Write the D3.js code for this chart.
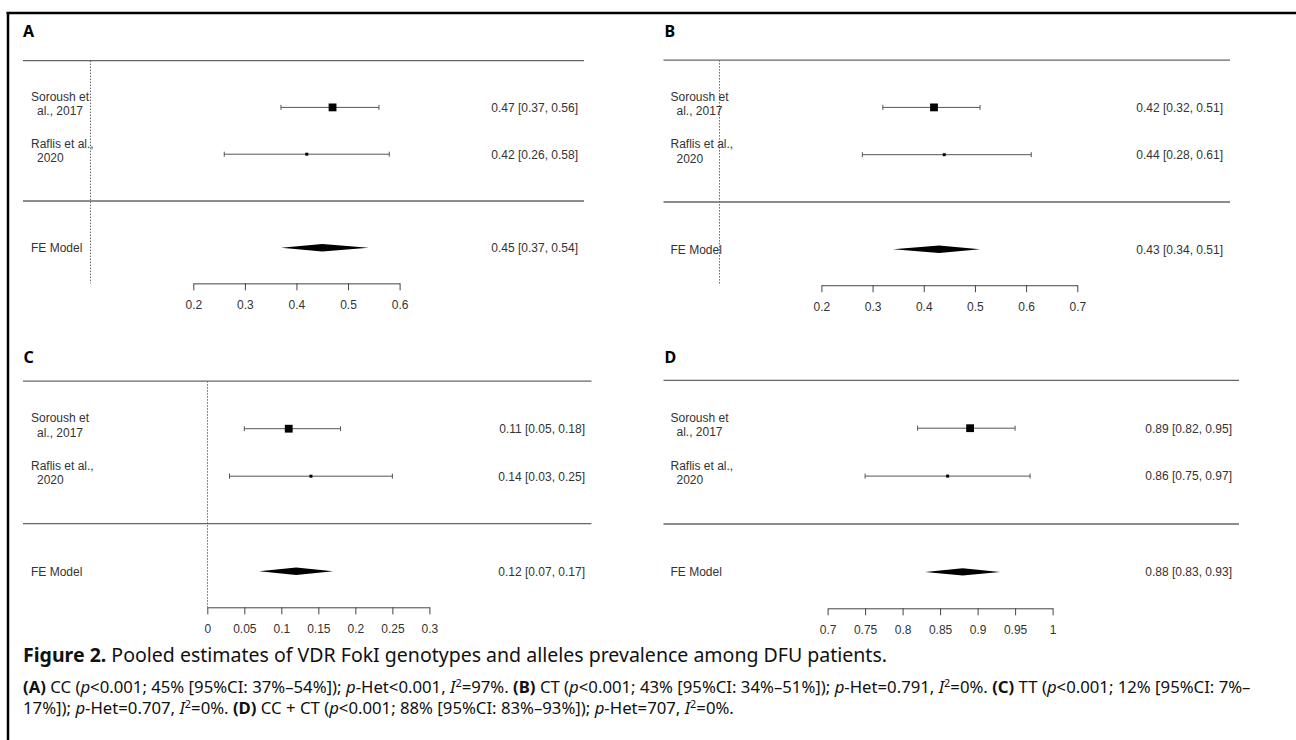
<!DOCTYPE html>
<html>
<head>
<meta charset="utf-8">
<script src="https://cdn.jsdelivr.net/npm/d3@7"></script>
<style>
  body { margin: 0; background: #fff; }
  .forest text { font-family: "Liberation Sans", Arial, sans-serif; font-size: 12px; fill: #333; }
  .forest .panel-label { font-family: "Noto Sans", sans-serif; font-size: 16px; font-weight: 700; fill: #000; }
  .caption { font-family: "Noto Sans", sans-serif; fill: #111; }
</style>
</head>
<body>
<svg id="fig" width="1296" height="740"></svg>
<script>
'use strict';

var studies = [['Soroush et', 'al., 2017'], ['Raflis et al.,', '2020']];
var panelIds = ['A', 'B', 'C', 'D'];

// per study: estimate, lower, upper; pooled = [estimate, lower, upper]
var ccEst = [0.47, 0.42], ccLow = [0.37, 0.26], ccHigh = [0.56, 0.58];
var ccPooled = [0.45, 0.37, 0.54];
var ctEst = [0.42, 0.44], ctLow = [0.32, 0.28], ctHigh = [0.51, 0.61];
var ctPooled = [0.43, 0.34, 0.51];
var ttEst = [0.11, 0.14], ttLow = [0.05, 0.03], ttHigh = [0.18, 0.25];
var ttPooled = [0.12, 0.07, 0.17];
var ccctEst = [0.89, 0.86], ccctLow = [0.82, 0.75], ccctHigh = [0.95, 0.97];
var ccctPooled = [0.88, 0.83, 0.93];

var ticksA = [0.2, 0.3, 0.4, 0.5, 0.6];
var ticksB = [0.2, 0.3, 0.4, 0.5, 0.6, 0.7];
var ticksC = [0, 0.05, 0.1, 0.15, 0.2, 0.25, 0.3];
var ticksD = [0.7, 0.75, 0.8, 0.85, 0.9, 0.95, 1];

var panels = [
  {est: ccEst, low: ccLow, high: ccHigh, pooled: ccPooled, ticks: ticksA},
  {est: ctEst, low: ctLow, high: ctHigh, pooled: ctPooled, ticks: ticksB},
  {est: ttEst, low: ttLow, high: ttHigh, pooled: ttPooled, ticks: ticksC},
  {est: ccctEst, low: ccctLow, high: ccctHigh, pooled: ccctPooled, ticks: ticksD}
];

// where each panel sits on the page (the four plots were pasted in at slightly different sizes)
var layouts = [
  {labelX: 23, labelY: 37, x0: 23, x1: 584, textX: 31, valueX: 578, row0: 201, rowH: 46.8, range: [193.3, 399.6]},
  {labelX: 664.5, labelY: 37, x0: 663.5, x1: 1230, textX: 670.5, valueX: 1223, row0: 202, rowH: 47.3, range: [821.4, 1077.3]},
  {labelX: 23.5, labelY: 363, x0: 23, x1: 591.5, textX: 31, valueX: 585, row0: 523.7, rowH: 47.5, range: [207.3, 429.4]},
  {labelX: 664.5, labelY: 363, x0: 663.5, x1: 1239, textX: 670.5, valueX: 1232, row0: 524, rowH: 47.9, range: [827.6, 1052.6]}
];

var axisRow = -1.76;
var fmt = d3.format('.2f');

var svg = d3.select('#fig');

// figure frame: heavy rule on top, rule down the left side
svg.append('line')
    .attr('x1', 6.5).attr('x2', 1296).attr('y1', 13).attr('y2', 13)
    .attr('stroke', '#000').attr('stroke-width', 2.5);
svg.append('line')
    .attr('x1', 8).attr('x2', 8).attr('y1', 12).attr('y2', 740)
    .attr('stroke', '#000').attr('stroke-width', 2.5);

function ciText(e, l, h) {
  return fmt(e) + ' [' + fmt(l) + ', ' + fmt(h) + ']';
}

function drawPanel(g, p, L, id) {
  var x = d3.scaleLinear().domain(d3.extent(p.ticks)).range(L.range);
  var y = d3.scaleLinear().domain([0, 1]).range([L.row0, L.row0 - L.rowH]);

  g.append('text')
      .attr('class', 'panel-label')
      .attr('x', L.labelX).attr('y', L.labelY)
      .text(id);

  // header and summary separators
  g.selectAll('.rule')
      .data([3, 0])
    .enter().append('line')
      .attr('class', 'rule')
      .attr('x1', L.x0).attr('x2', L.x1)
      .attr('y1', function(d) { return y(d); })
      .attr('y2', function(d) { return y(d); })
      .attr('stroke', '#666').attr('stroke-width', 1.3);

  // dotted reference line at 0, only when it falls inside the panel
  var x0 = Math.round(x(0)) + 0.5;
  if (x0 > L.x0) {
    g.append('line')
        .attr('x1', x0).attr('x2', x0)
        .attr('y1', y(3)).attr('y2', y(axisRow))
        .attr('stroke', '#666').attr('stroke-width', 1)
        .attr('stroke-dasharray', '1.5,1.5');
  }

  var rows = studies.map(function(s, j) {
    return {label: s, est: p.est[j], low: p.low[j], high: p.high[j], row: studies.length - j};
  });
  // inverse-variance weights set the box size
  rows.forEach(function(r) {
    var se = (r.high - r.low) / 3.92;
    r.w = 1 / (se * se);
  });
  var size = d3.scaleLinear().domain(d3.extent(rows, function(r) { return r.w; })).range([3, 7.8]);

  var row = g.selectAll('.study')
      .data(rows)
    .enter().append('g')
      .attr('class', 'study')
      .attr('transform', function(d) { return 'translate(0,' + y(d.row) + ')'; });

  row.append('text')
      .attr('x', L.textX).attr('y', -6.3)
      .text(function(d) { return d.label[0]; });
  row.append('text')
      .attr('x', L.textX + 6).attr('y', 8)
      .text(function(d) { return d.label[1]; });

  row.append('line')
      .attr('x1', function(d) { return x(d.low); })
      .attr('x2', function(d) { return x(d.high); })
      .attr('stroke', '#555').attr('stroke-width', 1);
  row.selectAll('.whisker')
      .data(function(d) { return [d.low, d.high]; })
    .enter().append('line')
      .attr('class', 'whisker')
      .attr('x1', function(v) { return x(v); })
      .attr('x2', function(v) { return x(v); })
      .attr('y1', -2.5).attr('y2', 2.5)
      .attr('stroke', '#555').attr('stroke-width', 1);
  row.append('rect')
      .attr('x', function(d) { return x(d.est) - size(d.w) / 2; })
      .attr('y', function(d) { return -size(d.w) / 2; })
      .attr('width', function(d) { return size(d.w); })
      .attr('height', function(d) { return size(d.w); })
      .attr('fill', '#000');
  row.append('text')
      .attr('x', L.valueX).attr('y', 4.3)
      .attr('text-anchor', 'end')
      .text(function(d) { return ciText(d.est, d.low, d.high); });

  // fixed-effect summary
  var fy = y(-1);
  g.append('text')
      .attr('x', L.textX).attr('y', fy + 4.3)
      .text('FE Model');
  g.append('polygon')
      .attr('points', [
        [x(p.pooled[1]), fy], [x(p.pooled[0]), fy - 3.7],
        [x(p.pooled[2]), fy], [x(p.pooled[0]), fy + 3.7]
      ].join(' '))
      .attr('fill', '#000');
  g.append('text')
      .attr('x', L.valueX).attr('y', fy + 4.3)
      .attr('text-anchor', 'end')
      .text(ciText(p.pooled[0], p.pooled[1], p.pooled[2]));

  var axis = g.append('g')
      .attr('transform', 'translate(0,' + y(axisRow) + ')')
      .call(d3.axisBottom(x)
          .tickValues(p.ticks)
          .tickSize(7)
          .tickSizeOuter(0)
          .tickPadding(10)
          .tickFormat(d3.format('~g')));
  axis.attr('font-family', null).attr('font-size', null).attr('color', '#444');
}

var forest = svg.append('g').attr('class', 'forest');
panels.forEach(function(p, i) {
  drawPanel(forest.append('g'), p, layouts[i], panelIds[i]);
});

// caption
var captionTitle = [['Figure 2.', 'b'], [' Pooled estimates of VDR FokI genotypes and alleles prevalence among DFU patients.', 'n']];
var captionLine2 = [
  ['(A)', 'b'], [' CC (', 'n'], ['p', 'i'], ['<0.001; 45% [95%CI: 37%\u201354%]); ', 'n'], ['p', 'i'], ['-Het<0.001, ', 'n'],
  ['I', 'i'], ['2', 'sup'], ['=97%. ', 'n'],
  ['(B)', 'b'], [' CT (', 'n'], ['p', 'i'], ['<0.001; 43% [95%CI: 34%\u201351%]); ', 'n'], ['p', 'i'], ['-Het=0.791, ', 'n'],
  ['I', 'i'], ['2', 'sup'], ['=0%. ', 'n'],
  ['(C)', 'b'], [' TT (', 'n'], ['p', 'i'], ['<0.001; 12% [95%CI: 7%\u2013', 'n']
];
var captionLine3 = [
  ['17%]); ', 'n'], ['p', 'i'], ['-Het=0.707, ', 'n'], ['I', 'i'], ['2', 'sup'], ['=0%. ', 'n'],
  ['(D)', 'b'], [' CC + CT (', 'n'], ['p', 'i'], ['<0.001; 88% [95%CI: 83%\u201393%]); ', 'n'], ['p', 'i'], ['-Het=707, ', 'n'],
  ['I', 'i'], ['2', 'sup'], ['=0%.', 'n']
];

function captionText(parts, x, y, fontSize) {
  var t = svg.append('text')
      .attr('class', 'caption')
      .attr('x', x).attr('y', y)
      .attr('font-size', fontSize);
  var lift = 0;
  parts.forEach(function(part) {
    var s = t.append('tspan').text(part[0]);
    if (part[1] === 'b') s.attr('font-weight', 700);
    if (part[1] === 'i') s.attr('font-style', 'italic');
    if (part[1] === 'sup') {
      s.attr('font-size', '65%').attr('dy', -fontSize * 0.35);
      lift = fontSize * 0.35;
    } else if (lift) {
      s.attr('dy', lift);
      lift = 0;
    }
  });
  return t;
}

// size the caption so it spans the same width as the original
var probe = captionText(captionTitle, 0, -50, 14);
var titleSize = 14 * 865 / probe.node().getComputedTextLength();
probe.remove();
captionText(captionTitle, 23, 662, titleSize);

probe = captionText(captionLine2, 0, -50, 12);
var bodySize = 12 * 1228 / probe.node().getComputedTextLength();
probe.remove();
captionText(captionLine2, 23, 693, bodySize);
captionText(captionLine3, 23, 714, bodySize);
</script>
</body>
</html>
